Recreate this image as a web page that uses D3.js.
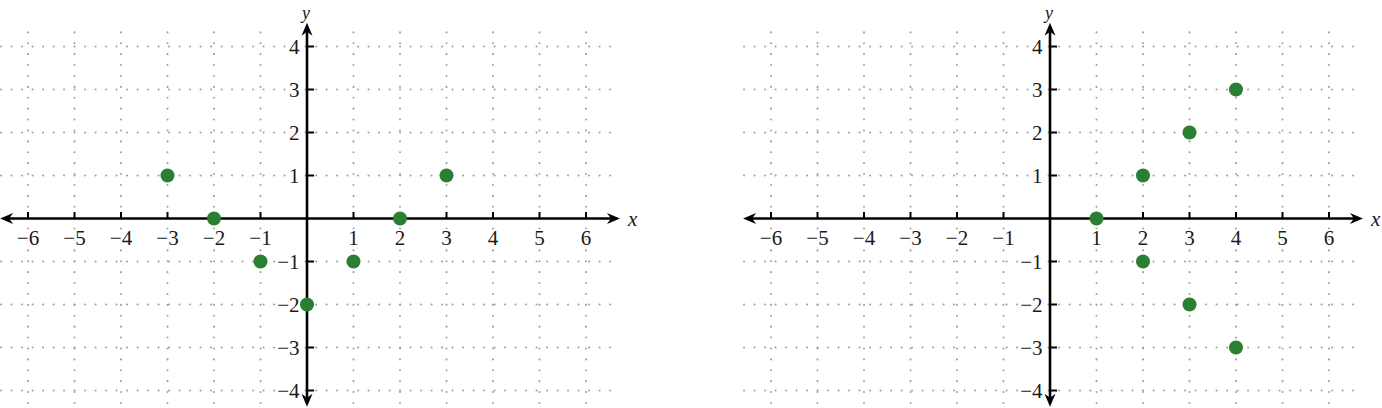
<!DOCTYPE html>
<html>
<head>
<meta charset="utf-8">
<script src="https://cdn.jsdelivr.net/npm/d3@7"></script>
<style>
  html, body { margin: 0; padding: 0; background: #fff; }
  svg { display: block; }
</style>
</head>
<body>
<div id="chart"></div>
<script>
// tick values shared by both planes
const xTicks = [-6, -5, -4, -3, -2, -1, 1, 2, 3, 4, 5, 6];
const yTicks = [-4, -3, -2, -1, 1, 2, 3, 4];
const gridX = [-6, -5, -4, -3, -2, -1, 1, 2, 3, 4, 5, 6];
const gridY = [-4, -3, -2, -1, 1, 2, 3, 4];

// left plane points
const leftX = [-3, -2, -1, 0, 1, 2, 3];
const leftY = [1, 0, -1, -2, -1, 0, 1];

// right plane points
const rightX = [1, 2, 2, 3, 3, 4, 4];
const rightY = [0, 1, -1, 2, -2, 3, -3];

const WIDTH = 1382, HEIGHT = 408;
const UNIT_X = 46.5, UNIT_Y = 43;
const ORIGIN_Y = 218.5;
const FONT = "'Liberation Serif', 'DejaVu Serif', serif";
const DOT = "#2b7f32";
const GRID = "#a0a0a0";

const svg = d3.select("#chart").append("svg")
    .attr("width", WIDTH)
    .attr("height", HEIGHT)
    .style("background", "#fff");

function arrow(g, x, y, dir) {
    // dir: angle in degrees, 0 = pointing right
    const len = 13, half = 5.5, notch = 4;
    g.append("path")
        .attr("d", `M0,0 L${-len},${-half} L${-len + notch},0 L${-len},${half} Z`)
        .attr("transform", `translate(${x},${y}) rotate(${dir})`)
        .attr("fill", "#000");
}

function plane(originX, xs, ys) {
    const x = d3.scaleLinear().domain([-6, 6])
        .range([originX - 6 * UNIT_X, originX + 6 * UNIT_X]);
    const y = d3.scaleLinear().domain([-4, 4])
        .range([ORIGIN_Y + 4 * UNIT_Y, ORIGIN_Y - 4 * UNIT_Y]);

    const g = svg.append("g");

    //grid
    const grid = g.append("g")
        .attr("stroke", GRID)
        .attr("stroke-width", 2)
        .attr("stroke-linecap", "round");

    grid.selectAll(".gh").data(gridY).join("line")
        .attr("x1", x(-6.58)).attr("x2", x(6.54))
        .attr("y1", d => y(d)).attr("y2", d => y(d))
        .attr("stroke-dasharray", "0.1,10.4");

    grid.selectAll(".gv").data(gridX).join("line")
        .attr("x1", d => x(d)).attr("x2", d => x(d))
        .attr("y1", y(4.33)).attr("y2", y(-4.5))
        .attr("stroke-dasharray", "0.1,10.8");

    //axes
    const x0 = x(0), y0 = y(0);
    const xl = x(-6.6), xr = x(6.73);
    const yt = y(4.55), yb = y(-4.38);

    g.append("line")
        .attr("x1", xl + 6).attr("x2", xr - 6)
        .attr("y1", y0).attr("y2", y0)
        .attr("stroke", "#000").attr("stroke-width", 2.6);
    g.append("line")
        .attr("x1", x0).attr("x2", x0)
        .attr("y1", yt + 6).attr("y2", yb - 6)
        .attr("stroke", "#000").attr("stroke-width", 2.6);

    arrow(g, xr, y0, 0);
    arrow(g, xl, y0, 180);
    arrow(g, x0, yt, -90);
    arrow(g, x0, yb, 90);

    //ticks
    g.selectAll(".tx").data(xTicks).join("line")
        .attr("x1", d => x(d)).attr("x2", d => x(d))
        .attr("y1", y0 - 6.5).attr("y2", y0)
        .attr("stroke", "#000").attr("stroke-width", 2);
    g.selectAll(".ty").data(yTicks).join("line")
        .attr("x1", x0).attr("x2", x0 + 7)
        .attr("y1", d => y(d)).attr("y2", d => y(d))
        .attr("stroke", "#000").attr("stroke-width", 2);

    const fmt = d => d < 0 ? "\u2212" + Math.abs(d) : String(d);

    //tick labels
    g.selectAll(".lx").data(xTicks).join("text")
        .attr("x", d => x(d))
        .attr("y", y0 + 26.5)
        .attr("text-anchor", "middle")
        .attr("font-family", FONT)
        .attr("font-size", 21)
        .attr("fill", "#1a1a1a")
        .attr("stroke", "#fff").attr("stroke-width", 3)
        .attr("paint-order", "stroke")
        .text(fmt);

    g.selectAll(".ly").data(yTicks).join("text")
        .attr("x", x0 - 7.5)
        .attr("y", d => y(d) + 7.3)
        .attr("text-anchor", "end")
        .attr("font-family", FONT)
        .attr("font-size", 21)
        .attr("fill", "#1a1a1a")
        .attr("stroke", "#fff").attr("stroke-width", 3)
        .attr("paint-order", "stroke")
        .text(fmt);

    //axis names
    g.append("text")
        .attr("x", xr + 8).attr("y", y0 + 7.5)
        .attr("font-family", FONT).attr("font-style", "italic")
        .attr("font-size", 21).attr("fill", "#1a1a1a")
        .text("x");
    g.append("text")
        .attr("x", x0 - 1).attr("y", 18.5)
        .attr("text-anchor", "middle")
        .attr("font-family", FONT).attr("font-style", "italic")
        .attr("font-size", 18).attr("fill", "#1a1a1a")
        .text("y");

    //points
    g.selectAll(".pt").data(xs.map((d, i) => [d, ys[i]])).join("circle")
        .attr("cx", d => x(d[0]))
        .attr("cy", d => y(d[1]))
        .attr("r", 7)
        .attr("fill", DOT);
}

plane(307, leftX, leftY);
plane(1050, rightX, rightY);
</script>
</body>
</html>
